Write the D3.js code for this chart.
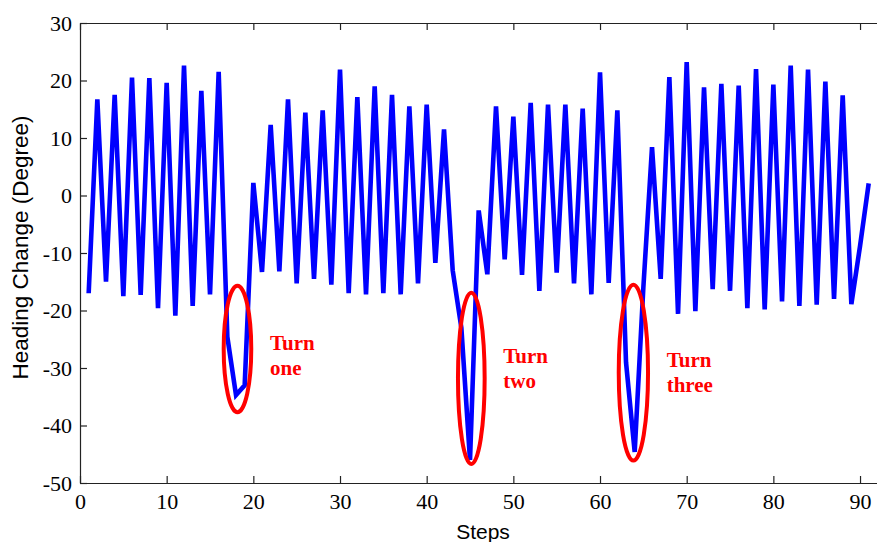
<!DOCTYPE html>
<html>
<head>
<meta charset="utf-8">
<script src="https://cdn.jsdelivr.net/npm/d3@7/dist/d3.min.js"></script>
<style>
  html, body { margin: 0; padding: 0; background: #fff; overflow: hidden; }
  svg { display: block; }
  .axis text { font-family: 'Liberation Serif', 'Times New Roman', serif; font-size: 22px; fill: #000; }
</style>
</head>
<body>
<svg id="chart" width="877" height="542"></svg>
<script>
// Heading change per step (degrees), steps 1..91
const steps = d3.range(1, 92);
const heading = [
  -17.0, 16.7, -15.0, 17.5, -17.5, 20.5, -17.3, 20.4, -19.6, 19.6,
  -20.9, 22.6, -19.2, 18.2, -17.2, 21.5, -24.6, -34.7, -33.0, 2.2,
  -13.3, 12.3, -13.2, 16.7, -15.3, 14.4, -14.5, 14.8, -15.5, 21.9,
  -17.0, 17.1, -17.2, 19.0, -17.0, 17.5, -17.2, 15.5, -15.3, 15.8,
  -11.7, 11.5, -13.0, -23.0, -46.0, -2.6, -13.7, 15.5, -11.1, 13.7,
  -13.8, 16.1, -16.6, 15.8, -13.4, 15.8, -15.3, 15.1, -17.2, 21.4,
  -15.2, 14.8, -29.0, -44.6, -16.0, 8.4, -14.5, 20.6, -20.6, 23.2,
  -20.1, 18.8, -16.3, 19.4, -16.6, 19.1, -19.6, 22.0, -19.8, 19.3,
  -18.4, 22.6, -19.2, 21.9, -19.0, 19.8, -18.0, 17.4, -18.9, -8.8,
  2.1
];

// Axis ticks
const xTicks = [0, 10, 20, 30, 40, 50, 60, 70, 80, 90];
const yTicks = [-50, -40, -30, -20, -10, 0, 10, 20, 30];

// Turn annotations: ellipse centre/radii in (step, degree) units, label anchor
const turnNames  = ["Turn one", "Turn two", "Turn three"];
const turnStep   = [18.17, 45.15, 63.85];
const turnDeg    = [-26.7, -31.8, -30.8];
const turnRStep  = [1.59, 1.54, 1.69];
const turnRDeg   = [11.0, 14.9, 15.3];
const labelStep  = [21.92, 48.84, 67.69];
const labelDeg   = [-26.9, -29.2, -29.9];

const svg = d3.select("#chart");
const plotLeft = 80, plotTop = 23, plotBottom = 483;
const x = d3.scaleLinear().domain([0, 93]).range([plotLeft, plotLeft + 93 * 8.667]);
const y = d3.scaleLinear().domain([-50, 30]).range([plotBottom, plotTop]);

const serif = "'Liberation Serif', 'Times New Roman', serif";
const sans = "'Liberation Sans', Arial, sans-serif";
const plain = d => String(d);

// Axes (ticks pointing inward)
const gx = svg.append("g").attr("class", "axis").attr("transform", `translate(0,${plotBottom})`)
  .call(d3.axisBottom(x).tickValues(xTicks).tickFormat(plain).tickSize(-7).tickSizeOuter(0).tickPadding(10.5));
const gxTop = svg.append("g").attr("class", "axis").attr("transform", `translate(0,${plotTop})`)
  .call(d3.axisTop(x).tickValues(xTicks).tickSize(-7).tickSizeOuter(0).tickFormat(""));
const gy = svg.append("g").attr("class", "axis").attr("transform", `translate(${plotLeft},0)`)
  .call(d3.axisLeft(y).tickValues(yTicks).tickFormat(plain).tickSize(-7).tickSizeOuter(0).tickPadding(8));

[gx, gxTop, gy].forEach(g => {
  g.attr("font-family", serif).attr("font-size", 22);
  g.selectAll("path.domain").attr("stroke", "#222").attr("stroke-width", 1.2);
  g.selectAll(".tick line").attr("stroke", "#222").attr("stroke-width", 1.2);
});
gy.selectAll(".tick text").attr("dy", "0.34em");

// Heading-change series
const line = d3.line().x((d, i) => x(steps[i])).y(d => y(d));
svg.append("path")
  .datum(heading)
  .attr("d", line)
  .attr("fill", "none")
  .attr("stroke", "#0000ff")
  .attr("stroke-width", 4.6);

// Turn markers
const turns = svg.append("g");
turnNames.forEach((name, i) => {
  turns.append("ellipse")
    .attr("cx", x(turnStep[i]))
    .attr("cy", y(turnDeg[i]))
    .attr("rx", x(turnRStep[i]) - x(0))
    .attr("ry", y(0) - y(turnRDeg[i]))
    .attr("fill", "none")
    .attr("stroke", "#ff0000")
    .attr("stroke-width", 4);
  const words = name.split(" ");
  const t = turns.append("text")
    .attr("x", x(labelStep[i]))
    .attr("y", y(labelDeg[i]))
    .attr("fill", "#ff0000")
    .style("font-family", serif)
    .style("font-weight", "bold")
    .style("font-size", "21px");
  words.forEach((w, k) => {
    t.append("tspan").attr("x", x(labelStep[i])).attr("dy", k === 0 ? 0 : 24.5).text(w);
  });
});

// Axis titles
svg.append("text")
  .attr("x", (x.range()[0] + x.range()[1]) / 2)
  .attr("y", 538.5)
  .attr("text-anchor", "middle")
  .style("font-family", sans)
  .style("font-size", "21px")
  .text("Steps");

svg.append("text")
  .attr("transform", `translate(28,247.5) rotate(-90)`)
  .attr("text-anchor", "middle")
  .style("font-family", sans)
  .style("font-size", "22.5px")
  .text("Heading Change (Degree)");
</script>
</body>
</html>
